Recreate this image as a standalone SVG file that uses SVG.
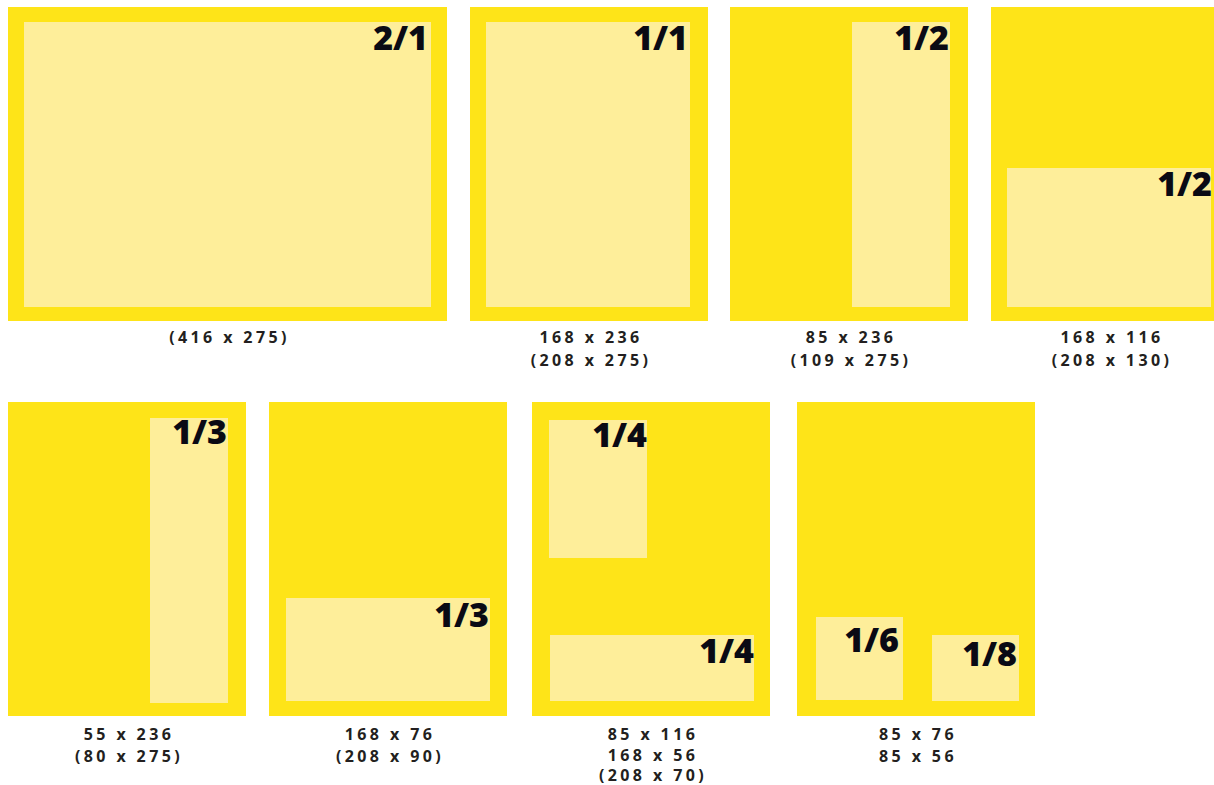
<svg xmlns="http://www.w3.org/2000/svg" width="1214" height="785" viewBox="0 0 1214 785">
<style>
.o{fill:#FEE418}
.i{fill:#FEEE9A}
.f{font-family:"Open Sans","Noto Sans","Liberation Sans",sans-serif;font-weight:800;font-size:34px;fill:#0A0A14;text-anchor:end}
.c{font-family:"Open Sans","Noto Sans","Liberation Sans",sans-serif;font-weight:700;font-size:16px;fill:#231F20;text-anchor:middle;letter-spacing:3.4px}
</style>
<rect width="1214" height="785" fill="#FFFFFF"/>
<g id="box-2-1">
<rect class="o" x="8" y="7" width="439" height="314"/>
<rect class="i" x="24" y="22" width="407" height="285"/>
<text class="f" x="428" y="50">2/1</text>
<text class="c" x="229.5" y="343">(416 x 275)</text>
</g>
<g id="box-1-1">
<rect class="o" x="470" y="7" width="238" height="314"/>
<rect class="i" x="486" y="22" width="204" height="285"/>
<text class="f" x="688" y="50">1/1</text>
<text class="c" x="591" y="343">168 x 236</text>
<text class="c" x="591" y="366">(208 x 275)</text>
</g>
<g id="box-1-2-vertical">
<rect class="o" x="730" y="7" width="238" height="314"/>
<rect class="i" x="852" y="22" width="98" height="285"/>
<text class="f" x="949" y="50">1/2</text>
<text class="c" x="851" y="343">85 x 236</text>
<text class="c" x="851" y="366">(109 x 275)</text>
</g>
<g id="box-1-2-horizontal">
<rect class="o" x="991" y="7" width="223" height="314"/>
<rect class="i" x="1007" y="168" width="204" height="139"/>
<text class="f" x="1212" y="196">1/2</text>
<text class="c" x="1112" y="343">168 x 116</text>
<text class="c" x="1112" y="366">(208 x 130)</text>
</g>
<g id="box-1-3-vertical">
<rect class="o" x="8" y="402" width="238" height="314"/>
<rect class="i" x="150" y="418" width="78" height="285"/>
<text class="f" x="227" y="444">1/3</text>
<text class="c" x="129" y="740">55 x 236</text>
<text class="c" x="129" y="762">(80 x 275)</text>
</g>
<g id="box-1-3-horizontal">
<rect class="o" x="269" y="402" width="238" height="314"/>
<rect class="i" x="286" y="598" width="204" height="103"/>
<text class="f" x="489" y="627">1/3</text>
<text class="c" x="390" y="740">168 x 76</text>
<text class="c" x="390" y="762">(208 x 90)</text>
</g>
<g id="box-1-4">
<rect class="o" x="532" y="402" width="238" height="314"/>
<rect class="i" x="549" y="420" width="98" height="138"/>
<rect class="i" x="550" y="635" width="204" height="66"/>
<text class="f" x="647" y="447">1/4</text>
<text class="f" x="754" y="663">1/4</text>
<text class="c" x="653" y="740">85 x 116</text>
<text class="c" x="653" y="761">168 x 56</text>
<text class="c" x="653" y="781">(208 x 70)</text>
</g>
<g id="box-1-6-1-8">
<rect class="o" x="797" y="402" width="238" height="314"/>
<rect class="i" x="816" y="617" width="87" height="83"/>
<rect class="i" x="932" y="635" width="87" height="66"/>
<text class="f" x="899" y="652">1/6</text>
<text class="f" x="1017" y="666">1/8</text>
<text class="c" x="918" y="740">85 x 76</text>
<text class="c" x="918" y="762">85 x 56</text>
</g>
<g id="connectors"></g>
</svg>
